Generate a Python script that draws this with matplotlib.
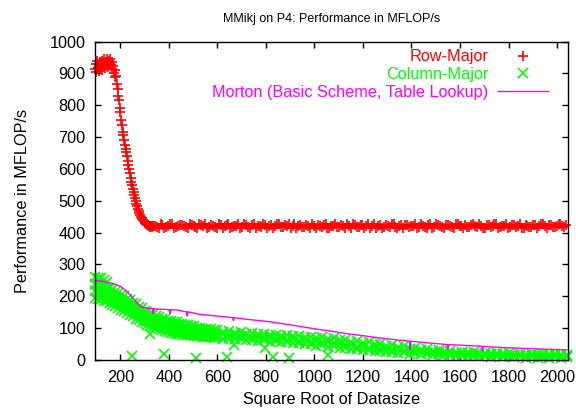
import numpy as np
import matplotlib
matplotlib.use("Agg")
import matplotlib.pyplot as plt

## Row-Major: in-cache plateau, the drop, then the flat out-of-cache level
row_x_head = np.arange(96, 337, 3)
row_y_head = [915, 928, 905, 938, 918, 930, 908, 935, 922, 940,
              912, 932, 925, 944, 918, 936, 926, 946, 920, 938,
              930, 944, 925, 935, 915, 922, 902, 910, 888, 892,
              866, 850, 828, 815, 790, 780, 752, 738, 716, 705,
              690, 676, 664, 652, 640, 624, 612, 600, 586, 572,
              560, 550, 538, 528, 518, 508, 500, 490, 482, 474,
              468, 461, 456, 450, 446, 442, 439, 436, 433, 430,
              428, 426, 425, 423, 422, 420, 419, 421, 418, 422, 420]

row_x_tail = np.arange(342, 2046, 16)
row_y_tail = [422, 416, 425, 419, 427, 414, 421, 424, 417, 426, 420, 413, 423, 428, 418, 421,
              415, 425, 420, 427, 417, 422, 413, 426, 419, 424, 416, 421, 428, 414, 423, 420,
              426, 418, 422, 415, 427, 421, 417, 424, 413, 420, 425, 419, 428, 416, 422, 418,
              424, 414, 421, 427, 419, 423, 416, 426, 420, 413, 425, 418, 422, 428, 417, 421,
              415, 424, 420, 427, 418, 422, 414, 426, 419, 423, 417, 425, 421, 416, 428, 420,
              423, 417, 426, 419, 422, 414, 425, 420, 427, 418, 421, 416, 424, 419, 426, 413,
              422, 418, 425, 420, 427, 416, 423, 419, 426, 421, 424]

row_x_tail2 = np.arange(350, 2046, 16)
row_y_tail2 = [419, 426, 414, 422, 428, 417, 424, 420, 413, 425, 418, 427, 421, 415, 423, 419,
               427, 416, 423, 413, 421, 426, 418, 424, 415, 428, 420, 417, 425, 422, 414, 426,
               417, 423, 428, 420, 414, 425, 419, 422, 427, 416, 421, 424, 413, 420, 426, 418,
               421, 427, 415, 423, 418, 425, 420, 414, 428, 422, 416, 424, 419, 426, 413, 423,
               425, 417, 422, 414, 426, 419, 423, 416, 428, 420, 415, 424, 418, 427, 421, 414,
               418, 425, 420, 427, 416, 423, 419, 426, 414, 422, 428, 417, 424, 420, 416, 425,
               419, 423, 416, 426, 420, 424, 417, 422, 427, 418]

## Column-Major: wide spread at small sizes (four runs), narrower later (three runs)
col_x_head = np.arange(96, 589, 12)
col_h1 = [262, 258, 256, 252, 244, 226, 220, 212, 209, 203, 200, 192, 188, 180,
          176, 167, 163, 155, 152, 145, 143, 137, 135, 130, 129, 124, 123, 118,
          118, 114, 114, 110, 110, 106, 106, 102, 102, 98, 98, 95, 96, 93]
col_h2 = [240, 238, 232, 234, 222, 210, 202, 198, 190, 188, 181, 178, 170, 166,
          158, 154, 146, 142, 135, 132, 126, 124, 118, 117, 112, 111, 106, 105,
          101, 101, 98, 97, 94, 94, 91, 91, 88, 88, 85, 85, 82, 83]
col_h3 = [216, 212, 214, 206, 204, 194, 190, 182, 180, 172, 170, 162, 158, 150,
          146, 138, 134, 127, 125, 118, 116, 110, 109, 104, 103, 98, 98, 94,
          94, 90, 90, 87, 87, 84, 84, 81, 81, 79, 79, 77, 77, 75]
col_h4 = [194, 190, 190, 186, 184, 180, 174, 170, 163, 158, 153, 149, 142, 137,
          130, 126, 119, 115, 110, 107, 103, 100, 96, 94, 91, 89, 86, 84,
          82, 81, 80, 79, 78, 77, 76, 75, 74, 73, 72, 71, 71, 70]

col_x_tail = np.arange(600, 2041, 24)
col_t1 = [94, 89, 90, 86, 88, 83, 85, 81, 82, 78, 80, 76, 78, 74, 76, 71, 73, 69, 71,
          67, 68, 63, 64, 58, 59, 53, 55, 49, 51, 45, 47, 41, 43, 36, 38, 32, 34, 28, 30,
          25, 28, 23, 26, 21, 24, 20, 23, 19, 22, 18, 21, 17, 20, 16, 19, 16, 19, 15, 18,
          15, 17]
col_t2 = [80, 82, 77, 80, 74, 77, 71, 73, 69, 71, 66, 69, 64, 67, 61, 64, 58, 60, 55,
          57, 52, 53, 46, 48, 42, 44, 38, 40, 34, 36, 32, 34, 28, 30, 25, 27, 22, 26, 21,
          23, 19, 22, 18, 21, 17, 20, 16, 19, 15, 18, 14, 17, 14, 16, 13, 16, 12, 15, 12,
          14, 12]
col_t3 = [71, 67, 69, 65, 67, 63, 64, 60, 62, 58, 60, 55, 57, 52, 54, 49, 50, 45, 47,
          42, 44, 38, 39, 34, 35, 30, 31, 27, 29, 24, 26, 22, 24, 20, 22, 18, 21, 16, 19,
          15, 17, 13, 16, 12, 15, 11, 14, 10, 13, 9, 12, 8, 11, 7, 10, 6, 10, 6, 9,
          5, 8]
# stray slow runs
col_out_x = [247, 323, 381, 511, 638, 670, 798, 831, 896, 1055]
col_out_y = [13, 82, 19, 6, 9, 47, 38, 9, 6, 16]

## Morton (basic scheme, table lookup)
mort_x = [96, 120, 144, 170, 199, 220, 240, 255, 268, 282,
          295, 320, 334, 336, 338, 350, 404, 406, 408, 433,
          474, 476, 478, 488, 529, 563, 600, 664, 666, 668,
          720, 806, 870, 944, 1000, 1082, 1140, 1204, 1270, 1343,
          1392, 1394, 1396, 1410, 1480, 1540, 1548, 1550, 1552, 1590,
          1691, 1693, 1695, 1699, 1840, 1950, 2040]
mort_y = [250, 248, 244, 240, 232, 220, 205, 192, 180, 170,
          165, 162, 161, 145, 161, 160, 158, 146, 158, 157,
          151, 138, 151, 150, 143, 141, 138, 133, 124, 133,
          128, 121, 114, 105, 98, 89, 82, 76, 69, 63,
          59, 33, 59, 58, 53, 49, 48, 35, 48, 47,
          43, 29, 43, 42, 37, 34, 32]

x_ticks = [200, 400, 600, 800, 1000, 1200, 1400, 1600, 1800, 2000]
y_ticks = [0, 100, 200, 300, 400, 500, 600, 700, 800, 900, 1000]


def main():
    plt.rcParams['font.family'] = ['Liberation Sans', 'DejaVu Sans']
    plt.rcParams['font.size'] = 11.7

    fig = plt.figure(figsize=(5.76, 4.13), dpi=100)
    ax = fig.add_axes([95 / 576, 53 / 413, 473 / 576, 318.5 / 413])

    red = '#ff0000'
    green = '#00ff00'
    magenta = '#ff00ff'
    mk = dict(linestyle='none', markersize=7.5, markeredgewidth=1.2, clip_on=False)

    ax.plot(row_x_head, row_y_head, '+', color=red, **mk)
    ax.plot(row_x_tail2, row_y_tail2, '+', color=red, **mk)
    ax.plot(row_x_tail, row_y_tail, '+', color=red, label='Row-Major', **mk)

    col_x_all = np.concatenate([col_x_head, col_x_head, col_x_head, col_x_head,
                                col_x_tail, col_x_tail, col_x_tail, col_out_x])
    col_y_all = np.concatenate([col_h1, col_h2, col_h3, col_h4,
                                col_t1, col_t2, col_t3, col_out_y])
    ax.plot(col_x_all, col_y_all, 'x', color=green, label='Column-Major', **mk)

    ax.plot(mort_x, mort_y, '-', color=magenta, linewidth=1.0,
            label='Morton (Basic Scheme, Table Lookup)')

    ax.set_xlim(96, 2045)
    ax.set_ylim(0, 1000)
    ax.set_xticks(x_ticks)
    ax.set_yticks(y_ticks)
    ax.tick_params(direction='in', length=4, width=1, top=True, right=True, colors='black')
    ax.tick_params(axis='x', pad=7)
    ax.tick_params(axis='y', pad=7)
    for s in ax.spines.values():
        s.set_linewidth(1.0)
        s.set_zorder(5)

    ax.set_title('MMikj on P4: Performance in MFLOP/s', fontsize=9, pad=14)
    ax.set_xlabel('Square Root of Datasize', labelpad=5)
    ax.set_ylabel('Performance in MFLOP/s', labelpad=14)

    leg = ax.legend(loc='upper right', bbox_to_anchor=(0.958, 0.975), frameon=False,
                    markerfirst=False, numpoints=1, handlelength=3.1, handletextpad=0.6,
                    labelspacing=0.16, borderpad=0, borderaxespad=0)
    for txt, c in zip(leg.get_texts(), [red, green, magenta]):
        txt.set_color(c)

    fig.savefig('out.png', dpi=100)
    return 0


if __name__ == '__main__':
    import sys
    sys.exit(main())
